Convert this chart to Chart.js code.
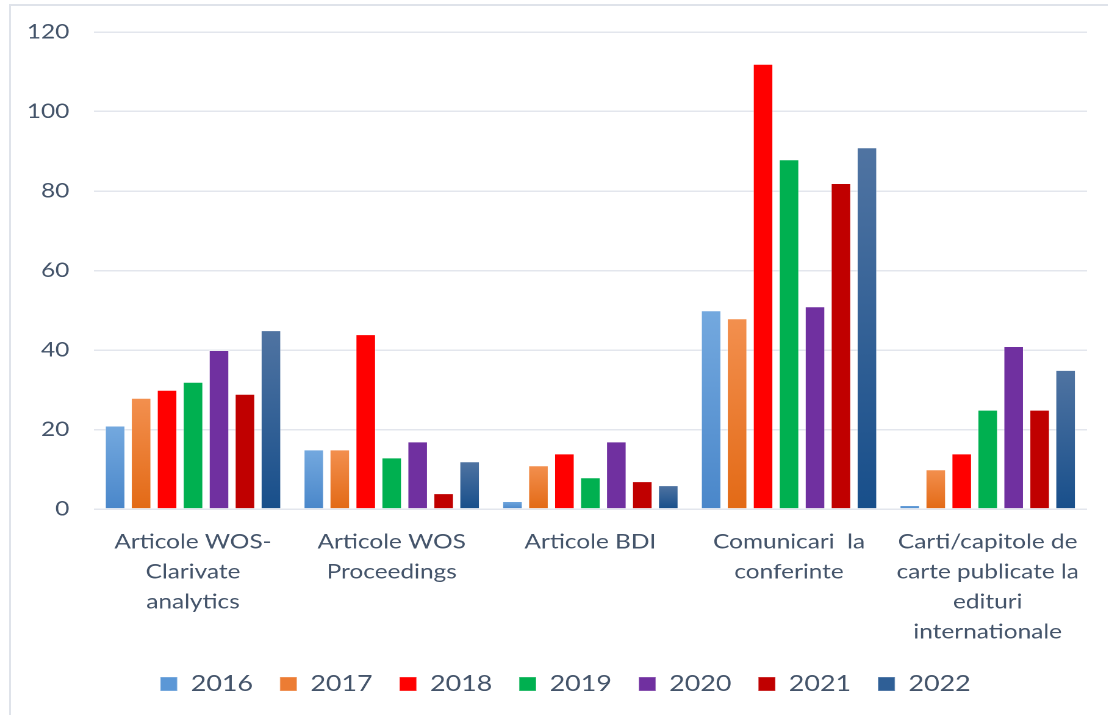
<!DOCTYPE html>
<html>
<head>
<meta charset="utf-8">
<script src="https://cdn.jsdelivr.net/npm/chart.js@4.4.1/dist/chart.umd.min.js"></script>
<style>
  html, body { margin: 0; padding: 0; background: #fff; overflow: hidden; }
  #cadru { position: absolute; left: 9px; top: 4px; width: 1200px; height: 800px; border: 2px solid #dfe3ea; }
  /* imaginea originala e usor intinsa pe orizontala */
  #wrap { position: absolute; left: 0; top: 0; transform-origin: 0 0; }
</style>
</head>
<body>
<div id="cadru"></div>
<div id="wrap"><canvas id="grafic"></canvas></div>
<script>
const categorii = [
    ['Articole WOS-', 'Clarivate', 'analytics'],
    ['Articole WOS', 'Proceedings'],
    ['Articole BDI'],
    ['Comunicari  la', 'conferinte'],
    ['Carti/capitole de', 'carte publicate la', 'edituri', 'internationale']
];
const ani = ['2016', '2017', '2018', '2019', '2020', '2021', '2022'];

const v2016 = [21, 15, 2, 50, 1];
const v2017 = [28, 15, 11, 48, 10];
const v2018 = [30, 44, 14, 112, 14];
const v2019 = [32, 13, 8, 88, 25];
const v2020 = [40, 17, 17, 51, 41];
const v2021 = [29, 4, 7, 82, 25];
const v2022 = [45, 12, 6, 91, 35];
const valori = [v2016, v2017, v2018, v2019, v2020, v2021, v2022];

const culoriSus = ['#74a9df', '#f3904f', '#ff0000', '#00b050', '#7030a0', '#c00000', '#5074a2'];
const culoriJos = ['#4a87ca', '#e36a16', '#ff0000', '#00b050', '#7030a0', '#c00000', '#184f8b'];
const culoriLegenda = ['#5b97d6', '#ec7c33', '#ff0000', '#00b050', '#7030a0', '#c00000', '#2f5f96'];

const textCuloare = '#44546a';
const font = 'Lato, "Open Sans", sans-serif';

const S = 1.22;
const canvas = document.getElementById('grafic');
canvas.width = Math.round(1108 / S);
canvas.height = 715;
document.getElementById('wrap').style.transform = 'scaleX(' + S + ')';

function gradientBara(i) {
    return ctx => {
        const chart = ctx.chart;
        const y = chart.scales && chart.scales.y;
        if (ctx.raw === undefined || !y || !chart.chartArea) return culoriJos[i];
        const sus = y.getPixelForValue(ctx.raw);
        const jos = y.getPixelForValue(0);
        if (!isFinite(sus) || !isFinite(jos) || sus === jos) return culoriJos[i];
        const g = chart.ctx.createLinearGradient(0, sus, 0, jos);
        g.addColorStop(0, culoriSus[i]);
        g.addColorStop(1, culoriJos[i]);
        return g;
    };
}

// legenda e putin mai la dreapta si mai sus decat o pune Chart.js
const mutaLegenda = {
    id: 'mutaLegenda',
    afterLayout(chart) {
        const l = chart.legend;
        if (!l) return;
        l.left += 17; l.right += 17;
        l.top -= 6; l.bottom -= 6;
    }
};

new Chart(canvas, {
    type: 'bar',
    data: {
        labels: categorii,
        datasets: ani.map((an, i) => ({
            label: an,
            data: valori[i],
            backgroundColor: gradientBara(i),
            borderColor: 'rgba(255,255,255,0.35)',
            borderWidth: 1,
            categoryPercentage: 0.915,
            barPercentage: 0.81
        }))
    },
    options: {
        responsive: false,
        devicePixelRatio: 2,
        animation: false,
        layout: { padding: { left: 2, right: 17, top: 14, bottom: 4 } },
        scales: {
            x: {
                grid: { display: false },
                border: { display: false },
                ticks: {
                    color: textCuloare,
                    font: { family: font, size: 20, lineHeight: 1.5 },
                    padding: 10,
                    maxRotation: 0,
                    autoSkip: false
                }
            },
            y: {
                min: 0,
                max: 120,
                border: { display: false },
                grid: { color: '#e3e6ed', lineWidth: 1.5, drawTicks: false },
                ticks: {
                    stepSize: 20,
                    color: textCuloare,
                    font: { family: font, size: 20 },
                    padding: 20
                }
            }
        },
        plugins: {
            tooltip: { enabled: false },
            legend: {
                position: 'bottom',
                labels: {
                    color: textCuloare,
                    font: { family: font, size: 22 },
                    boxWidth: 14,
                    boxHeight: 14,
                    padding: 22,
                    generateLabels: chart => ani.map((an, i) => ({
                        text: an,
                        fillStyle: culoriLegenda[i],
                        strokeStyle: 'rgba(255,255,255,0.35)',
                        lineWidth: 1,
                        fontColor: textCuloare,
                        datasetIndex: i,
                        hidden: false
                    }))
                }
            }
        }
    },
    plugins: [mutaLegenda]
});
</script>
</body>
</html>
